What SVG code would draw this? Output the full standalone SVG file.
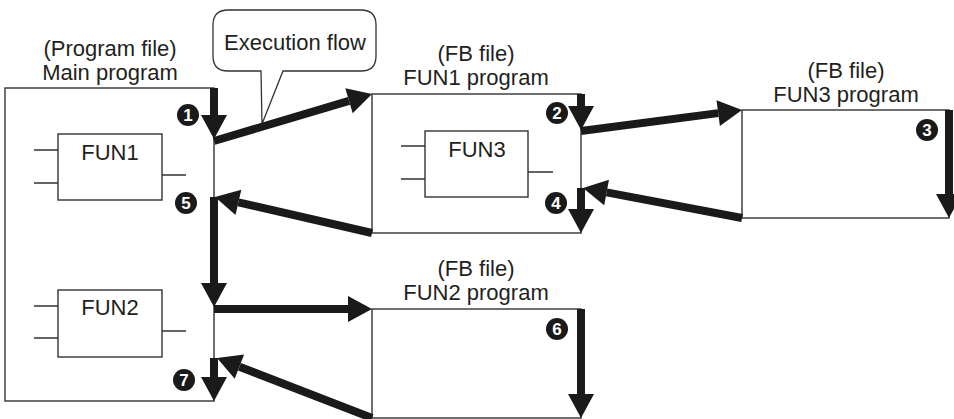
<svg xmlns="http://www.w3.org/2000/svg" width="954" height="419" viewBox="0 0 954 419">
<style>
.lbl{font-family:"Liberation Sans",Arial,sans-serif;font-size:22px;fill:#231f20;text-anchor:middle}
.box{fill:none;stroke:#333;stroke-width:1.4}
.thin{fill:none;stroke:#333;stroke-width:1.3}
.arr{fill:none;stroke:#1a1a1a;stroke-width:8;marker-end:url(#ah)}
.num{fill:#1a1a1a}
.numt{font-family:"Liberation Sans",Arial,sans-serif;font-size:17px;font-weight:bold;fill:#fff;text-anchor:middle}
</style>
<defs>
<marker id="ah" markerUnits="userSpaceOnUse" markerWidth="24" markerHeight="26" refX="0" refY="13" orient="auto" overflow="visible">
<path d="M0,0 L24,13 L0,26 Z" fill="#1a1a1a"/>
</marker>
</defs>
<rect width="954" height="419" fill="#fff"/>

<g id="callout">
<path d="M228,10 H361 Q376,10 376,25 V56 Q376,71 361,71 H283 L262,124 L261,71 H228 Q213,71 213,56 V25 Q213,10 228,10 Z" fill="#fff" stroke="#333" stroke-width="1.3"/>
<text class="lbl" x="295" y="50">Execution flow</text>
</g>

<g id="main">
<text class="lbl" x="110" y="56">(Program file)</text>
<text class="lbl" x="110" y="80">Main program</text>
<rect class="box" x="5" y="88" width="209" height="313"/>
</g>

<g id="fun1block">
<rect class="box" x="58" y="134" width="104" height="66"/>
<path class="thin" d="M34,150 H58 M34,183 H58 M162,175 H186"/>
<text class="lbl" x="110" y="160">FUN1</text>
</g>

<g id="fun2block">
<rect class="box" x="58" y="290" width="104" height="67"/>
<path class="thin" d="M34,306 H58 M34,338 H58 M162,331 H186"/>
<text class="lbl" x="110" y="315">FUN2</text>
</g>

<g id="fun1prog">
<text class="lbl" x="476" y="61">(FB file)</text>
<text class="lbl" x="476" y="85">FUN1 program</text>
<rect class="box" x="372" y="94" width="209" height="139"/>
</g>

<g id="fun3block">
<rect class="box" x="425" y="131" width="103" height="66"/>
<path class="thin" d="M401,146 H425 M401,179 H425 M528,172 H553"/>
<text class="lbl" x="477" y="157">FUN3</text>
</g>

<g id="fun3prog">
<text class="lbl" x="846" y="78">(FB file)</text>
<text class="lbl" x="846" y="102">FUN3 program</text>
<rect class="box" x="742" y="110" width="207" height="108"/>
</g>

<g id="fun2prog">
<text class="lbl" x="476" y="276">(FB file)</text>
<text class="lbl" x="476" y="300">FUN2 program</text>
<rect class="box" x="372" y="309" width="209" height="109"/>
</g>

<g id="connectors">
<path class="arr" d="M214,88 V115"/>
<path class="arr" d="M214,141 L349,100.8"/>
<path class="arr" d="M581,94 V106"/>
<path class="arr" d="M581,131 L718.2,113.1"/>
<path class="arr" d="M949,110 V194"/>
<path class="arr" d="M742,218 L606.6,192.4"/>
<path class="arr" d="M581,188 V209"/>
<path class="arr" d="M372,233 L238.4,202.4"/>
<path class="arr" d="M214,197 V283"/>
<path class="arr" d="M214,309 H348"/>
<path class="arr" d="M581,309 V394"/>
<path class="arr" d="M372,418 L239.4,366.7"/>
<path class="arr" d="M214,358 V377"/>
</g>

<g id="steps">
<circle class="num" cx="188" cy="115" r="11"/><text class="numt" x="188" y="121">1</text>
<circle class="num" cx="557" cy="113" r="11"/><text class="numt" x="557" y="119">2</text>
<circle class="num" cx="927" cy="130" r="11"/><text class="numt" x="927" y="136">3</text>
<circle class="num" cx="556" cy="203" r="11"/><text class="numt" x="556" y="209">4</text>
<circle class="num" cx="186" cy="203" r="11"/><text class="numt" x="186" y="209">5</text>
<circle class="num" cx="557" cy="329" r="11"/><text class="numt" x="557" y="335">6</text>
<circle class="num" cx="184" cy="380" r="11"/><text class="numt" x="184" y="386">7</text>
</g>
</svg>
